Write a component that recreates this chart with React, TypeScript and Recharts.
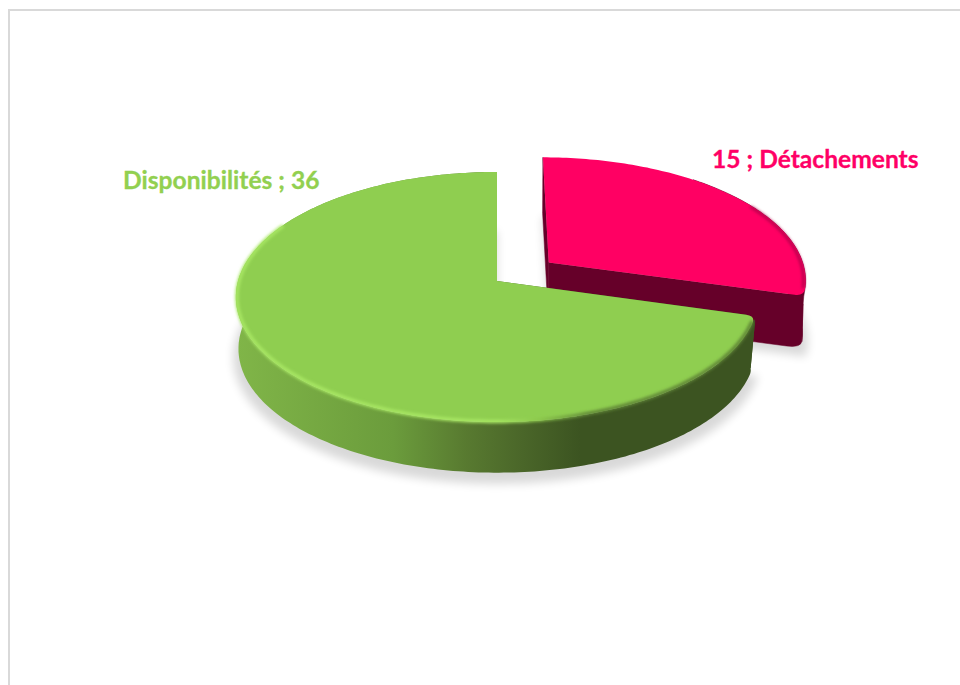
import { PieChart, Pie } from 'recharts';

const categories = ['Détachements', 'Disponibilités'];
const values = [15, 36];
const explode = [0.255, 0];
const labelFormats = ['value-first', 'name-first'];

const TOP_COLORS = ['#ff0063', '#8fce50'];
const TEXT_COLORS = ['#ff0066', '#92d050'];
const LABEL_X = [712, 123];
const LABEL_Y = [168, 189];

const slices = categories.map((name, i) => ({ name, value: values[i], fill: TOP_COLORS[i] }));

// fake the excel 3d look: tilt + perspective on the unit circle
const TILT = 0.475;
const PERSP = 0.128;
const DEPTH = 52;
const BASE_SCALE = 0.99;

type Pt = [number, number];

function project(p: any, u: number, v: number, base = false): Pt {
  const w = 1 - PERSP * v;
  const k = base ? BASE_SCALE : 1;
  const x = (p.outerRadius * u * k) / w;
  const y = (p.outerRadius * TILT * v * k) / w;
  return [p.cx + x, p.cy + y + (base ? DEPTH : 0)];
}

function arcPoints(p: any, from: number, to: number, base = false, r = 1): Pt[] {
  const i = categories.indexOf(p.name);
  const mid = (((p.startAngle + p.endAngle) / 2) * Math.PI) / 180;
  const ox = explode[i] * Math.cos(mid);
  const oy = -explode[i] * Math.sin(mid);
  const n = Math.max(2, Math.ceil(Math.abs(to - from)));
  const pts: Pt[] = [];
  for (let k = 0; k <= n; k++) {
    const a = ((from + ((to - from) * k) / n) * Math.PI) / 180;
    pts.push(project(p, ox + r * Math.cos(a), oy - r * Math.sin(a), base));
  }
  return pts;
}

function apex(p: any, base = false): Pt {
  const i = categories.indexOf(p.name);
  const mid = (((p.startAngle + p.endAngle) / 2) * Math.PI) / 180;
  return project(p, explode[i] * Math.cos(mid), -explode[i] * Math.sin(mid), base);
}

const fmt = (q: Pt) => `${q[0].toFixed(1)} ${q[1].toFixed(1)}`;
const toPath = (pts: Pt[], close = true) => 'M' + pts.map(fmt).join('L') + (close ? 'Z' : '');

function towards(from: Pt, to: Pt, dist: number): Pt {
  const len = Math.hypot(to[0] - from[0], to[1] - from[1]);
  return [from[0] + ((to[0] - from[0]) * dist) / len, from[1] + ((to[1] - from[1]) * dist) / len];
}

function ShadowSector(p: any) {
  const pts = [apex(p, true), ...arcPoints(p, p.startAngle, p.endAngle, true, 1.02)];
  const id = `sh${p.name.length}`;
  return (
    <g>
      <defs>
        <filter id={id} x="-10%" y="-10%" width="120%" height="130%">
          <feGaussianBlur stdDeviation="5" />
        </filter>
      </defs>
      <path d={toPath(pts)} fill="#000" opacity={0.15} transform="translate(0 8)" filter={`url(#${id})`} />
    </g>
  );
}

function BodySector(p: any) {
  const isPink = categories.indexOf(p.name) === 0;
  // arcs run so that the last point is always the front tip of the slice
  const from = isPink ? p.startAngle : p.endAngle;
  const to = isPink ? p.endAngle : p.startAngle;
  const top = arcPoints(p, from, to);
  const bottom = arcPoints(p, from, to, true);
  const a = apex(p);
  const b = apex(p, true);
  const left = p.cx - p.outerRadius;
  const right = p.cx + p.outerRadius;
  const wallFill = isPink ? '#660029' : 'url(#sideGreen)';
  const last = top.length - 1;
  const trim = last - 3;
  // the back of the pink wall is hidden, start it further round
  const first = isPink ? 40 : 0;

  // rounded tip on the top face and on the wall under it
  const tipIn = towards(top[last], a, 9);
  const tipDown = towards(top[last], bottom[last], 8);
  const baseIn = towards(bottom[last], b, isPink ? 14 : 4);
  const topPath = `${toPath([a, ...top.slice(0, trim + 1)], false)}Q${fmt(top[last])} ${fmt(tipIn)}Z`;
  const wallPath =
    `${toPath(top.slice(first, trim + 1), false)}Q${fmt(top[last])} ${fmt(tipDown)}L` +
    bottom.slice(first, trim + 1).reverse().map(fmt).join('L') +
    'Z';
  const endWall =
    `${toPath([a, tipIn, tipDown, bottom[trim]], false)}Q${fmt(bottom[last])} ${fmt(baseIn)}L${fmt(b)}Z`;
  const startWall = [a, top[0], towards(bottom[0], b, 2.5), b];

  // rim only runs along the part of the edge facing us
  const rim = isPink
    ? arcPoints(p, 30, p.endAngle + 4, false, 0.992)
    : arcPoints(p, p.startAngle - 3, -208, false, 0.996);

  const seam = isPink ? wallFill : 'none';

  return (
    <g>
      <defs>
        <linearGradient id="sideGreen" gradientUnits="userSpaceOnUse" x1={left} x2={right} y1="0" y2="0">
          <stop offset="0" stopColor="#80b548" />
          <stop offset="0.3" stopColor="#6b9c3c" />
          <stop offset="0.44" stopColor="#587a30" />
          <stop offset="0.55" stopColor="#4a6629" />
          <stop offset="0.66" stopColor="#3c5421" />
          <stop offset="1" stopColor="#3c5421" />
        </linearGradient>
        <linearGradient id="rimGreen" gradientUnits="userSpaceOnUse" x1={left} x2={right} y1="0" y2="0">
          <stop offset="0" stopColor="#a8e764" />
          <stop offset="0.5" stopColor="#a8e764" />
          <stop offset="0.58" stopColor="#8cc84c" />
          <stop offset="0.68" stopColor="#5e8436" />
          <stop offset="1" stopColor="#5e8436" />
        </linearGradient>
        <filter id="rimBlur" x="-5%" y="-5%" width="110%" height="110%">
          <feGaussianBlur stdDeviation="1.6" />
        </filter>
      </defs>
      <path d={toPath(startWall)} fill={wallFill} stroke={seam} strokeWidth={0.5} />
      <path d={wallPath} fill={wallFill} stroke={seam} strokeWidth={0.5} />
      <path d={endWall} fill={wallFill} stroke={seam} strokeWidth={0.5} />
      <path d={topPath} fill={p.fill} />
      <path
        d={toPath(rim, false)}
        fill="none"
        stroke={isPink ? '#b00048' : 'url(#rimGreen)'}
        strokeWidth={isPink ? 2.5 : 3.5}
        strokeLinecap="round"
        filter="url(#rimBlur)"
      />
    </g>
  );
}

function renderLabel(p: any) {
  const i = categories.indexOf(p.name);
  const text = labelFormats[i] === 'value-first' ? `${p.value} ; ${p.name}` : `${p.name} ; ${p.value}`;
  return (
    <text
      key={p.name}
      x={LABEL_X[i]}
      y={LABEL_Y[i]}
      fill={TEXT_COLORS[i]}
      stroke={TEXT_COLORS[i]}
      strokeWidth={0.3}
      textAnchor="start"
      fontFamily="Lato, sans-serif"
      fontWeight={700}
      fontSize={24.6}
    >
      {text}
    </text>
  );
}

export default function App() {
  return (
    <div style={{ position: 'absolute', left: 0, top: 0, width: 960, height: 685, overflow: 'hidden', background: '#fff' }}>
      <div
        style={{
          position: 'absolute',
          left: 8,
          top: 9,
          width: 960,
          height: 700,
          borderLeft: '2px solid #d9d9d9',
          borderTop: '2px solid #d9d9d9',
        }}
      />
      <div style={{ position: 'absolute', left: 0, top: 0 }}>
        <PieChart width={960} height={685} margin={{ top: 0, right: 0, bottom: 0, left: 0 }}>
          <Pie
            data={slices}
            dataKey="value"
            nameKey="name"
            cx={497}
            cy={281}
            outerRadius={259}
            startAngle={90}
            endAngle={-270}
            stroke="none"
            shape={ShadowSector}
            isAnimationActive={false}
          />
          <Pie
            data={slices}
            dataKey="value"
            nameKey="name"
            cx={497}
            cy={281}
            outerRadius={259}
            startAngle={90}
            endAngle={-270}
            stroke="none"
            shape={BodySector}
            label={renderLabel}
            labelLine={false}
            isAnimationActive={false}
          />
        </PieChart>
      </div>
    </div>
  );
}
